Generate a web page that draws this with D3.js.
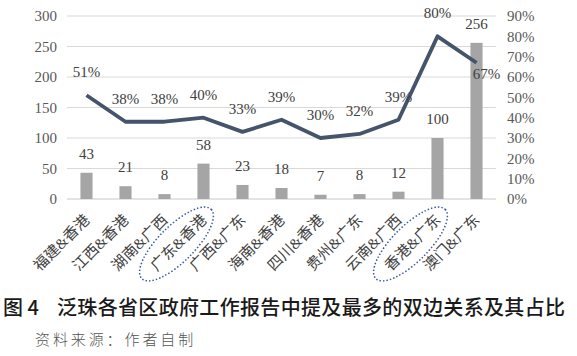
<!DOCTYPE html>
<html>
<head>
<meta charset="utf-8">
<script src="https://cdn.jsdelivr.net/npm/d3@7/dist/d3.min.js"></script>
<style>
html,body{margin:0;padding:0;background:#fff;}
svg{display:block;}
</style>
</head>
<body>
<svg id="chart" width="577" height="356"></svg>
<script>
const categories = ["福建&香港","江西&香港","湖南&广西","广东&香港","广西&广东","海南&香港","四川&香港","贵州&广东","云南&广西","香港&广东","澳门&广东"];
const counts = [43,21,8,58,23,18,7,8,12,100,256];
const shares = [0.51,0.38,0.38,0.40,0.33,0.39,0.30,0.32,0.39,0.80,0.67];
const leftTicks = [0,50,100,150,200,250,300];
const rightTicks = [0,0.1,0.2,0.3,0.4,0.5,0.6,0.7,0.8,0.9];
const circled = ["广东&香港","香港&广东"];
const titleNo = "图 4";
const titleText = "泛珠各省区政府工作报告中提及最多的双边关系及其占比";
const sourceText = "资料来源：作者自制";

const svg = d3.select("#chart");
const serif = "'Liberation Serif','Times New Roman',serif";
const cjk = "'Liberation Serif','Noto Sans CJK SC',sans-serif";

const x = d3.scaleBand().domain(categories).range([67,496]).paddingInner(0.69).paddingOuter(0.345);
const yL = d3.scaleLinear().domain([0,300]).range([199,16]);
const yR = d3.scaleLinear().domain([0,0.9]).range([199,16]);
const cx = c => x(c) + x.bandwidth()/2;

// gridlines
svg.append("g").selectAll("line").data(leftTicks.filter(d=>d>0)).join("line")
  .attr("x1",67).attr("x2",496).attr("y1",d=>yL(d)).attr("y2",d=>yL(d))
  .attr("stroke","#d9d9d9").attr("stroke-width",1);
svg.append("line").attr("x1",67).attr("x2",496).attr("y1",yL(0)).attr("y2",yL(0))
  .attr("stroke","#c8c8c8").attr("stroke-width",1);

// left axis labels
const gl = svg.append("g").attr("transform","translate(57,0)")
  .call(d3.axisLeft(yL).tickValues(leftTicks).tickSize(0).tickPadding(0));
gl.select(".domain").remove();
gl.selectAll("text").attr("font-family",serif).attr("font-size",15).attr("fill","#595959");

// right axis labels
const gr = svg.append("g").attr("transform","translate(507,0)")
  .call(d3.axisRight(yR).tickValues(rightTicks).tickFormat(d3.format(".0%")).tickSize(0).tickPadding(0));
gr.select(".domain").remove();
gr.selectAll("text").attr("font-family",serif).attr("font-size",15).attr("fill","#595959");

// bars
svg.append("g").selectAll("rect").data(categories).join("rect")
  .attr("x",d=>x(d)).attr("width",x.bandwidth())
  .attr("y",(d,i)=>yL(counts[i])).attr("height",(d,i)=>yL(0)-yL(counts[i]))
  .attr("fill","#a5a5a5");

// bar labels
svg.append("g").selectAll("text").data(categories).join("text")
  .attr("x",d=>cx(d)).attr("y",(d,i)=>yL(counts[i])-14)
  .attr("text-anchor","middle").attr("font-family",serif).attr("font-size",15).attr("fill","#404040")
  .text((d,i)=>counts[i]);

// line
const line = d3.line().x(d=>cx(d[0])).y(d=>yR(d[1]));
svg.append("path").datum(categories.map((c,i)=>[c,shares[i]]))
  .attr("d",line).attr("fill","none").attr("stroke","#44546a").attr("stroke-width",3.8)
  .attr("stroke-linejoin","round");

// line labels
const last = categories.length-1;
svg.append("g").selectAll("text").data(categories).join("text")
  .attr("x",(d,i)=> i===last ? cx(d)+10 : cx(d))
  .attr("y",(d,i)=> i===last ? yR(shares[i])+16 : yR(shares[i])-18)
  .attr("text-anchor","middle").attr("font-family",serif).attr("font-size",15).attr("fill","#404040")
  .text((d,i)=>d3.format(".0%")(shares[i]));

// x labels
svg.append("g").selectAll("text").data(categories).join("text")
  .attr("transform",d=>`translate(${cx(d)+4},221) rotate(-45)`)
  .attr("text-anchor","end").attr("font-family",cjk).attr("font-size",15).attr("fill","#404040")
  .text(d=>d);

// dotted ellipses around highlighted labels
svg.append("g").selectAll("ellipse").data(circled).join("ellipse")
  .attr("transform",d=>`translate(${cx(d)-27},244) rotate(-45)`)
  .attr("rx",49).attr("ry",18)
  .attr("fill","none").attr("stroke","#3a56a8").attr("stroke-width",1.5)
  .attr("stroke-dasharray","1.5,2");

// title
svg.append("text").attr("x",3).attr("y",315).attr("font-family","'Noto Sans CJK SC',sans-serif")
  .attr("font-size",20).attr("font-weight",500).attr("fill","#1a1a1a").text(titleNo);
svg.append("text").attr("x",57).attr("y",315).attr("font-family","'Noto Sans CJK SC',sans-serif")
  .attr("font-size",20).attr("font-weight",500).attr("fill","#1a1a1a")
  .attr("textLength",508).attr("lengthAdjust","spacing").text(titleText);
svg.append("text").attr("x",35).attr("y",345).attr("font-family","'Noto Sans CJK SC',sans-serif")
  .attr("font-size",15).attr("font-weight",300).attr("fill","#555").attr("letter-spacing",2.9).text(sourceText);
</script>
</body>
</html>
